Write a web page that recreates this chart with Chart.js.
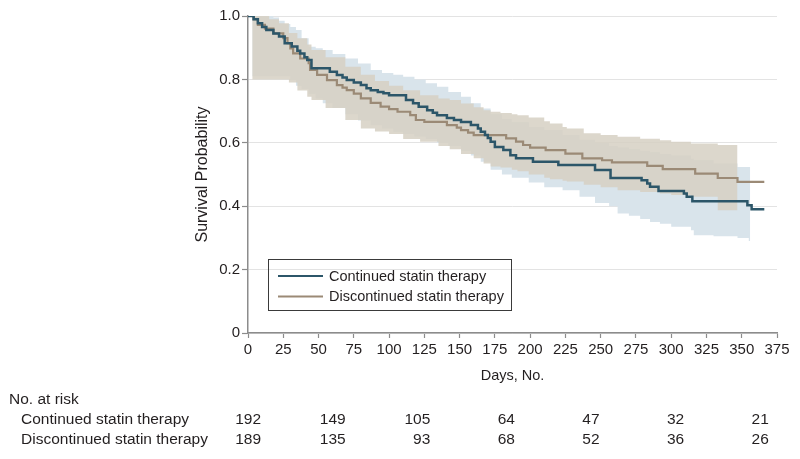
<!DOCTYPE html>
<html><head><meta charset="utf-8">
<script src="https://cdn.jsdelivr.net/npm/chart.js@4.4.1/dist/chart.umd.min.js"></script>
<style>html,body{margin:0;padding:0;background:#fff}#wrap{width:800px;height:459px;position:relative}</style>
</head><body><div id="wrap"><canvas id="c" width="800" height="459"></canvas></div>
<script>
// ---- data ----
const seriesLabels = ['Continued statin therapy', 'Discontinued statin therapy'];
const contDays = [0,4,7,10,13,18,22,26,31,35,37,40,42,45,58,63,67,70,75,80,84,87,92,96,100,112,117,121,127,131,134,141,146,151,158,163,165,168,170,172,175,181,186,190,202,220,246,257,279,283,285,291,309,311,315,354,357,366];
const contSurv = [1.0,0.99,0.977,0.965,0.956,0.945,0.935,0.914,0.904,0.89,0.882,0.87,0.861,0.835,0.824,0.814,0.806,0.798,0.79,0.782,0.772,0.766,0.76,0.756,0.75,0.735,0.725,0.714,0.703,0.695,0.687,0.678,0.672,0.666,0.656,0.645,0.635,0.625,0.615,0.603,0.587,0.577,0.561,0.551,0.54,0.53,0.514,0.489,0.482,0.472,0.461,0.448,0.44,0.43,0.416,0.403,0.39,0.39];
const discDays = [0,4,7,12,18,25,28,30,32,37,43,44,49,56,63,67,70,75,80,87,94,100,106,115,119,125,141,148,151,156,160,183,190,195,200,211,225,237,251,258,283,294,317,333,347,366];
const discSurv = [1.0,0.99,0.972,0.96,0.945,0.93,0.914,0.898,0.882,0.866,0.851,0.83,0.814,0.798,0.782,0.774,0.766,0.755,0.74,0.726,0.714,0.706,0.698,0.687,0.672,0.666,0.656,0.648,0.64,0.632,0.624,0.614,0.604,0.593,0.585,0.577,0.566,0.551,0.545,0.538,0.527,0.517,0.503,0.489,0.477,0.477];
const contBandDays = [3,18,22,26,30,34,38,43,48,53,60,69,78,87,95,103,110,118,126,134,142,151,158,165,172,180,187,199,210,223,235,246,256,262,270,278,285,292,300,314,316,330,347,355,356];
const contUpper = [1.0,0.995,0.985,0.975,0.965,0.956,0.93,0.903,0.898,0.893,0.88,0.866,0.85,0.83,0.82,0.815,0.808,0.8,0.788,0.777,0.76,0.745,0.725,0.708,0.69,0.675,0.665,0.65,0.64,0.625,0.61,0.6,0.59,0.585,0.58,0.575,0.57,0.565,0.56,0.55,0.545,0.535,0.524,0.524,0.524];
const contLower = [0.81,0.81,0.81,0.81,0.8,0.78,0.77,0.755,0.74,0.725,0.71,0.69,0.67,0.655,0.645,0.635,0.628,0.62,0.612,0.6,0.59,0.575,0.56,0.54,0.515,0.5,0.49,0.475,0.46,0.45,0.43,0.41,0.4,0.377,0.37,0.36,0.35,0.345,0.335,0.324,0.308,0.305,0.3,0.29,0.29];
const discBandDays = [3,8,15,22,29,35,42,45,55,69,80,90,100,110,122,135,143,151,160,167,172,179,187,191,199,210,214,223,226,238,250,262,278,292,300,314,333,347];
const discUpper = [1.0,1.0,0.99,0.977,0.946,0.93,0.91,0.893,0.87,0.84,0.815,0.795,0.78,0.766,0.75,0.74,0.735,0.724,0.712,0.703,0.698,0.694,0.69,0.687,0.68,0.668,0.661,0.65,0.645,0.63,0.625,0.619,0.613,0.608,0.603,0.598,0.593,0.593];
const discLower = [0.8,0.8,0.8,0.8,0.79,0.765,0.745,0.735,0.71,0.672,0.645,0.636,0.628,0.612,0.603,0.59,0.58,0.565,0.551,0.535,0.525,0.522,0.515,0.51,0.5,0.49,0.485,0.48,0.478,0.468,0.46,0.45,0.445,0.44,0.435,0.43,0.387,0.387];
const yTickLabels = ['0','0.2','0.4','0.6','0.8','1.0'];
const riskTitle = 'No. at risk';
const riskDays = [0,60,120,180,240,300,360];
const riskContinued = [192,149,105,64,47,32,21];
const riskDiscontinued = [189,135,93,68,52,36,26];

// ---- styles ----
const FONT = '"Liberation Sans", Arial, sans-serif';
const TEXT = '#231f20';
const C_CONT = '#2c5669';
const C_DISC = '#9b8a76';
const pts = (xs, ys) => xs.map((d, i) => ({x: d, y: ys[i]}));

const overlay = {
  id: 'overlay',
  afterDraw(chart) {
    const ctx = chart.ctx, xs = chart.scales.x;
    ctx.save();
    // legend box
    ctx.strokeStyle = '#3a3a3a'; ctx.lineWidth = 1;
    ctx.strokeRect(268.5, 259.5, 243, 51);
    const cols = [C_CONT, C_DISC];
    ctx.font = '14.5px ' + FONT; ctx.fillStyle = TEXT; ctx.textBaseline = 'middle'; ctx.textAlign = 'left';
    seriesLabels.forEach((lab, i) => {
      const y = 276 + i * 20.5;
      ctx.strokeStyle = cols[i]; ctx.lineWidth = 2.2;
      ctx.beginPath(); ctx.moveTo(278, y); ctx.lineTo(323, y); ctx.stroke();
      ctx.fillText(lab, 329, y + 0.5);
    });
    // risk table
    ctx.font = '15.5px ' + FONT;
    ctx.fillText(riskTitle, 9, 400);
    ctx.fillText(seriesLabels[0], 21, 420);
    ctx.fillText(seriesLabels[1], 21, 440);
    ctx.textAlign = 'right';
    riskDays.forEach((d, i) => {
      const x = xs.getPixelForValue(d) + 13;
      ctx.fillText(String(riskContinued[i]), x, 420);
      ctx.fillText(String(riskDiscontinued[i]), x, 440);
    });
    ctx.restore();
  }
};

const common = {pointRadius: 0, stepped: true, tension: 0};
new Chart(document.getElementById('c'), {
  type: 'line',
  data: {
    datasets: [
      Object.assign({label: seriesLabels[0], data: pts(contDays, contSurv), borderColor: C_CONT, borderWidth: 2.5, fill: false}, common),
      Object.assign({label: seriesLabels[1], data: pts(discDays, discSurv), borderColor: C_DISC, borderWidth: 2.2, fill: false}, common),
      Object.assign({label: 'disc upper', data: pts(discBandDays, discUpper), borderColor: 'rgba(0,0,0,0)', borderWidth: 0, fill: '+1', backgroundColor: 'rgba(214,208,195,0.85)'}, common),
      Object.assign({label: 'disc lower', data: pts(discBandDays, discLower), borderColor: 'rgba(0,0,0,0)', borderWidth: 0, fill: false}, common),
      Object.assign({label: 'cont upper', data: pts(contBandDays, contUpper), borderColor: 'rgba(0,0,0,0)', borderWidth: 0, fill: '+1', backgroundColor: '#d9e4eb'}, common),
      Object.assign({label: 'cont lower', data: pts(contBandDays, contLower), borderColor: 'rgba(0,0,0,0)', borderWidth: 0, fill: false}, common)
    ]
  },
  options: {
    responsive: false, animation: false, devicePixelRatio: 1,
    layout: {padding: {left: 190, right: 23, top: 16, bottom: 0}},
    plugins: {legend: {display: false}, tooltip: {enabled: false}},
    scales: {
      x: {
        type: 'linear', min: 0, max: 375,
        afterFit: s => { s.height = 126; },
        ticks: {stepSize: 25, color: TEXT, font: {family: FONT, size: 15}, padding: 3, maxRotation: 0, autoSkip: false},
        grid: {display: true, drawOnChartArea: false, drawTicks: true, tickLength: 5, tickColor: '#8c8c8c', tickWidth: 1.2},
        border: {display: true, color: '#8c8c8c', width: 1.5},
        title: {display: true, text: 'Days, No.', color: TEXT, font: {family: FONT, size: 14.5}, padding: {top: 0, bottom: 74}}
      },
      y: {
        min: 0, max: 1,
        afterFit: s => { s.width = 58; },
        ticks: {stepSize: 0.2, color: TEXT, font: {family: FONT, size: 15}, padding: 2,
          callback: (v) => yTickLabels[Math.round(v * 5)]},
        grid: {color: '#e3e3e3', lineWidth: 1, tickLength: 6, tickColor: '#8c8c8c', tickWidth: 1.2},
        border: {display: true, color: '#8c8c8c', width: 1.5},
        title: {display: true, text: 'Survival Probability', color: TEXT, font: {family: FONT, size: 16}, padding: {top: 3, bottom: 0}}
      }
    }
  },
  plugins: [overlay]
});
</script></body></html>
